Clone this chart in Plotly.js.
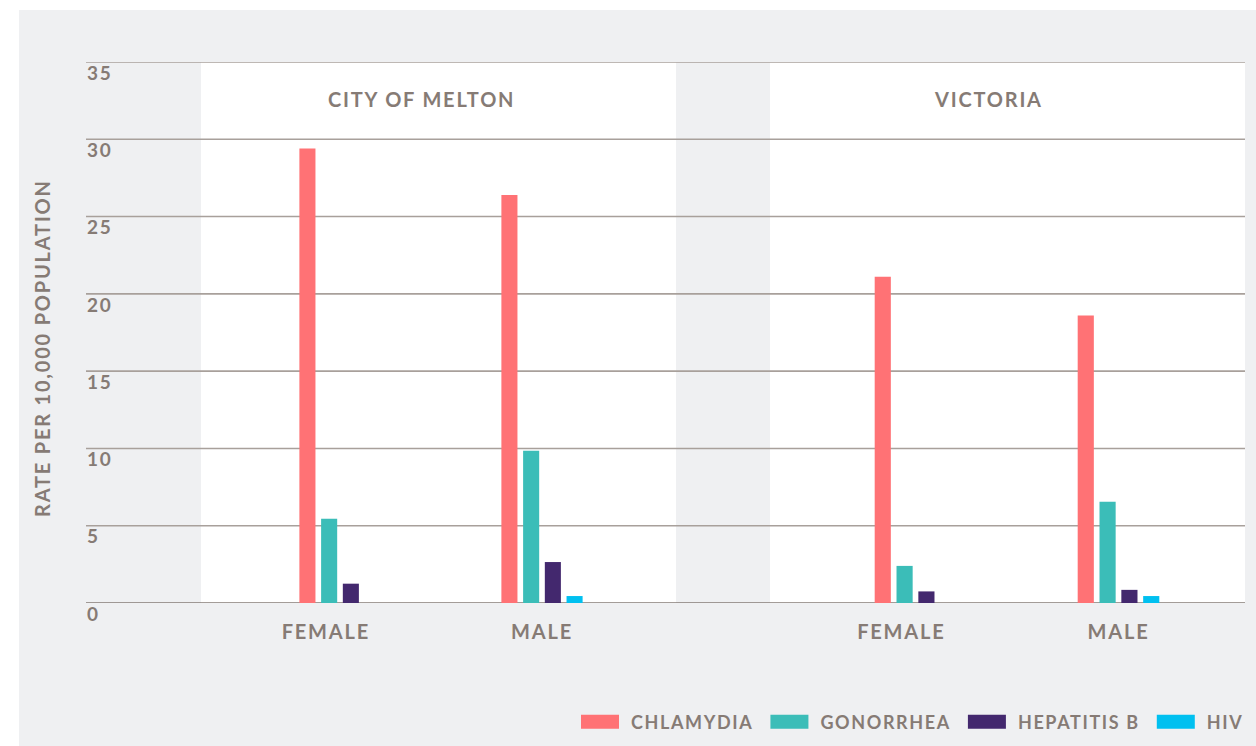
<!DOCTYPE html>
<html>
<head>
<meta charset="utf-8">
<script src="https://cdn.plot.ly/plotly-3.0.1.min.js"></script>
<style>
html,body{margin:0;padding:0;background:#fff;}
#chart{width:1256px;height:746px;}
svg text{letter-spacing:0.09em;}
.legend .legendpoints path{d:path("M19,7H-19V-7H19Z");}
</style>
</head>
<body>
<div id="chart"></div>
<script>
// ---- data ----
var sexes = ['FEMALE', 'MALE'];
var regions = ['CITY OF MELTON', 'VICTORIA'];
var diseases = ['CHLAMYDIA', 'GONORRHEA', 'HEPATITIS B', 'HIV'];
var meltonChlamydia = [29.4, 26.4];
var meltonGonorrhea = [5.45, 9.85];
var meltonHepatitisB = [1.25, 2.65];
var meltonHIV = [0, 0.45];
var victoriaChlamydia = [21.1, 18.6];
var victoriaGonorrhea = [2.4, 6.55];
var victoriaHepatitisB = [0.75, 0.85];
var victoriaHIV = [0, 0.45];
var yTicks = [0, 5, 10, 15, 20, 25, 30, 35];
var yTitle = 'RATE PER 10,000 POPULATION';

var colors = ['#ff7275', '#3bbdb8', '#43286e', '#00c0f0'];
var textColor = '#867b75';
var FONT = 'Lato, "Noto Sans", sans-serif';

var W = 1256, H = 746;
function px(x) { return x / W; }
function py(y) { return 1 - y / H; }

var meltonSeries = [meltonChlamydia, meltonGonorrhea, meltonHepatitisB, meltonHIV];
var victoriaSeries = [victoriaChlamydia, victoriaGonorrhea, victoriaHepatitisB, victoriaHIV];

var traces = [];
diseases.forEach(function (d, i) {
  traces.push({
    type: 'bar', name: d, x: sexes, y: meltonSeries[i],
    xaxis: 'x', yaxis: 'y', legendgroup: d, showlegend: true,
    marker: { color: colors[i], line: { width: 0 } }, hoverinfo: 'y+name'
  });
});
diseases.forEach(function (d, i) {
  traces.push({
    type: 'bar', name: d, x: sexes, y: victoriaSeries[i],
    xaxis: 'x2', yaxis: 'y', legendgroup: d, showlegend: false,
    marker: { color: colors[i], line: { width: 0 } }, hoverinfo: 'y+name'
  });
});

var topTick = yTicks[yTicks.length - 1];
var shapes = [];
// outer grey card
shapes.push({ type: 'rect', layer: 'below', xref: 'paper', yref: 'paper',
  x0: px(19), x1: 1, y0: 0, y1: py(10), fillcolor: '#eff0f2', line: { width: 0 } });
// white panels
shapes.push({ type: 'rect', layer: 'below', xref: 'paper', yref: 'y',
  x0: px(201), x1: px(676), y0: 0, y1: topTick, fillcolor: '#ffffff', line: { width: 0 } });
shapes.push({ type: 'rect', layer: 'below', xref: 'paper', yref: 'y',
  x0: px(770), x1: px(1245), y0: 0, y1: topTick, fillcolor: '#ffffff', line: { width: 0 } });
// gridlines
yTicks.forEach(function (v) {
  shapes.push({ type: 'line', layer: 'below', xref: 'paper', yref: 'y',
    x0: px(86), x1: px(1245), y0: v, y1: v,
    line: { color: v === 0 ? '#857b76' : '#a8a09b', width: 1.6 } });
});

var xTickFont = { family: FONT, size: 20, color: textColor, weight: 700 };

var layout = {
  width: W, height: H,
  margin: { l: 0, r: 0, t: 0, b: 0, autoexpand: false },
  paper_bgcolor: '#ffffff', plot_bgcolor: 'rgba(0,0,0,0)',
  barmode: 'group', bargap: 0.57, bargroupgap: 0.26,
  showlegend: true,
  legend: {
    orientation: 'h', x: px(1249), xanchor: 'right', y: py(722), yanchor: 'middle',
    itemwidth: 52,
    font: { family: FONT, size: 18, color: textColor, weight: 700 },
    bgcolor: 'rgba(0,0,0,0)', traceorder: 'normal', itemclick: false, itemdoubleclick: false
  },
  xaxis: {
    domain: [px(239), px(643)], anchor: 'y', type: 'category',
    tickmode: 'array', tickvals: [-0.07, 1], ticktext: sexes,
    showgrid: false, zeroline: false, showline: false, ticks: '',
    tickfont: xTickFont, ticklabelstandoff: 15, fixedrange: true
  },
  xaxis2: {
    domain: [px(814), px(1220)], anchor: 'y', type: 'category',
    tickmode: 'array', tickvals: [-0.07, 1], ticktext: sexes,
    showgrid: false, zeroline: false, showline: false, ticks: '',
    tickfont: xTickFont, ticklabelstandoff: 15, fixedrange: true
  },
  yaxis: {
    domain: [py(603), py(62)], range: [0, 35], anchor: 'free', position: px(83),
    tickmode: 'array', tickvals: yTicks,
    ticklabelposition: 'inside', ticklabeloverflow: 'allow', ticklabelshift: 11, ticklabelstandoff: 0,
    showgrid: false, zeroline: false, showline: false, ticks: '',
    tickfont: { family: FONT, size: 19, color: textColor, weight: 700 }, fixedrange: true
  },
  shapes: shapes,
  annotations: [
    { xref: 'paper', yref: 'paper', x: px(421), y: py(99), text: regions[0], showarrow: false,
      xanchor: 'center', yanchor: 'middle', font: { family: FONT, size: 20, color: textColor, weight: 700 } },
    { xref: 'paper', yref: 'paper', x: px(988), y: py(99), text: regions[1], showarrow: false,
      xanchor: 'center', yanchor: 'middle', font: { family: FONT, size: 20, color: textColor, weight: 700 } },
    { xref: 'paper', yref: 'paper', x: px(42), y: py(348), text: yTitle, showarrow: false, textangle: -90,
      xanchor: 'center', yanchor: 'middle', font: { family: FONT, size: 20, color: textColor, weight: 700 } }
  ]
};

Plotly.newPlot('chart', traces, layout, { displayModeBar: false, staticPlot: true });
</script>
</body>
</html>
